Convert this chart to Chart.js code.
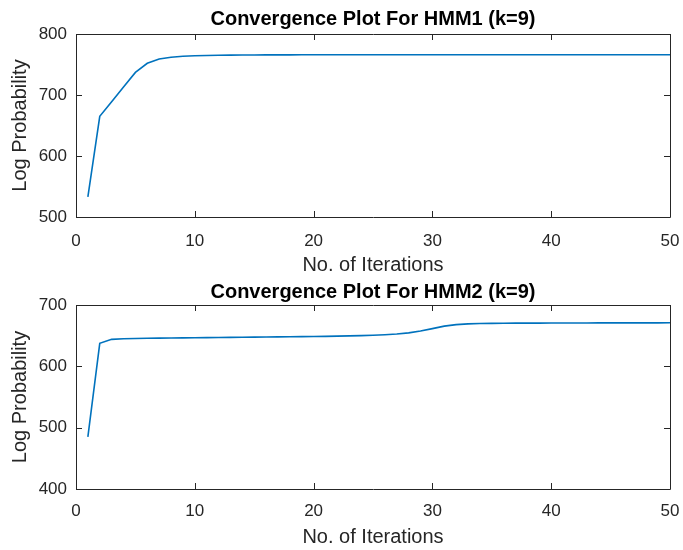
<!DOCTYPE html>
<html>
<head>
<meta charset="utf-8">
<script src="https://cdn.jsdelivr.net/npm/chart.js@4.4.1/dist/chart.umd.min.js"></script>
<style>
  html, body { margin: 0; padding: 0; background: #fff; }
  #wrap { position: relative; width: 683px; height: 550px; }
  .panel { position: absolute; left: 0; width: 683px; }
  #p1 { top: 0; height: 280px; }
  #p2 { top: 280px; height: 270px; }
</style>
</head>
<body>
<div id="wrap">
  <div class="panel" id="p1"><canvas id="hmm1"></canvas></div>
  <div class="panel" id="p2"><canvas id="hmm2"></canvas></div>
</div>
<script>
const iterations = [1, 2, 3, 4, 5, 6, 7, 8, 9, 10,
    11, 12, 13, 14, 15, 16, 17, 18, 19, 20,
    21, 22, 23, 24, 25, 26, 27, 28, 29, 30,
    31, 32, 33, 34, 35, 36, 37, 38, 39, 40,
    41, 42, 43, 44, 45, 46, 47, 48, 49, 50];

const hmm1LogProb = [533, 665, 689, 713, 737, 752, 759, 762, 763.5, 764.3,
    764.8, 765.1, 765.3, 765.5, 765.6, 765.7, 765.8, 765.8, 765.9, 765.9,
    766, 766, 766, 766, 766, 766, 766, 766, 766, 766,
    766, 766, 766, 766, 766, 766, 766, 766, 766, 766,
    766, 766, 766, 766, 766, 766, 766, 766, 766, 766];

const hmm2LogProb = [485, 637.5, 644, 645, 645.5, 645.7, 646, 646.2, 646.4, 646.6,
    646.8, 647, 647.2, 647.4, 647.6, 647.8, 648, 648.2, 648.4, 648.6,
    648.9, 649.2, 649.6, 650, 650.6, 651.4, 652.6, 654.5, 657.5, 661.5,
    665.5, 668, 669.2, 669.8, 670.1, 670.3, 670.4, 670.5, 670.5, 670.6,
    670.6, 670.7, 670.7, 670.8, 670.8, 670.8, 670.9, 670.9, 670.9, 671];

const xTicks = [0, 10, 20, 30, 40, 50];
const yTicks1 = [500, 600, 700, 800];
const yTicks2 = [400, 500, 600, 700];

const titles = ["Convergence Plot For HMM1 (k=9)", "Convergence Plot For HMM2 (k=9)"];

const FONT = "'Liberation Sans', Arial, Helvetica, sans-serif";
const INK = "#262626";

// matlab style box with inward ticks on all four sides
const boxPlugin = {
    id: "box",
    afterDatasetsDraw(chart) {
        const { ctx, chartArea: a, scales } = chart;
        const len = 6;
        ctx.save();
        ctx.strokeStyle = INK;
        ctx.lineWidth = 1;
        ctx.beginPath();
        ctx.rect(Math.round(a.left) + 0.5, Math.round(a.top) + 0.5,
            Math.round(a.right - a.left), Math.round(a.bottom - a.top));
        scales.x.ticks.forEach(t => {
            const px = Math.round(scales.x.getPixelForValue(t.value)) + 0.5;
            ctx.moveTo(px, a.bottom); ctx.lineTo(px, a.bottom - len);
            ctx.moveTo(px, a.top); ctx.lineTo(px, a.top + len);
        });
        scales.y.ticks.forEach(t => {
            const py = Math.round(scales.y.getPixelForValue(t.value)) + 0.5;
            ctx.moveTo(a.left, py); ctx.lineTo(a.left + len, py);
            ctx.moveTo(a.right, py); ctx.lineTo(a.right - len, py);
        });
        ctx.stroke();
        ctx.restore();
    }
};

function makeChart(id, title, values, yTicks, opts) {
    const ctx = document.getElementById(id).getContext("2d");
    return new Chart(ctx, {
        type: "line",
        data: {
            datasets: [{
                data: iterations.map((x, i) => ({ x: x, y: values[i] })),
                borderColor: "#0072BD",
                borderWidth: 1.6,
                pointRadius: 0,
                fill: false,
                tension: 0
            }]
        },
        options: {
            responsive: true,
            maintainAspectRatio: false,
            animation: false,
            layout: { padding: { left: 0, right: 13, top: 0, bottom: 0 } },
            plugins: {
                legend: { display: false },
                tooltip: { enabled: false },
                title: {
                    display: true,
                    text: title,
                    fullSize: false,
                    color: "#000",
                    font: { family: FONT, size: 20, weight: "bold" },
                    padding: opts.titlePad
                }
            },
            scales: {
                x: {
                    type: "linear",
                    min: 0,
                    max: 50,
                    afterBuildTicks: s => { s.ticks = xTicks.map(v => ({ value: v })); },
                    afterFit: s => {
                        s.height = opts.xHeight;
                        s.paddingLeft = 0;
                        s.paddingRight = 0;
                    },
                    grid: { display: false, drawTicks: false },
                    border: { display: false },
                    ticks: {
                        color: INK,
                        padding: opts.xTickPad,
                        maxRotation: 0,
                        font: { family: FONT, size: 17 }
                    },
                    title: {
                        display: true,
                        text: "No. of Iterations",
                        color: INK,
                        font: { family: FONT, size: 20 },
                        padding: { top: 0, bottom: opts.xTitlePad }
                    }
                },
                y: {
                    min: yTicks[0],
                    max: yTicks[yTicks.length - 1],
                    afterBuildTicks: s => { s.ticks = yTicks.map(v => ({ value: v })); },
                    afterFit: s => {
                        s.width = 76;
                        s.paddingTop = 0;
                        s.paddingBottom = 0;
                    },
                    grid: { display: false, drawTicks: false },
                    border: { display: false },
                    ticks: {
                        color: INK,
                        padding: 9,
                        font: { family: FONT, size: 17 }
                    },
                    title: {
                        display: true,
                        text: "Log Probability",
                        color: INK,
                        font: { family: FONT, size: 20 },
                        padding: { top: 8, bottom: 0 }
                    }
                }
            }
        },
        plugins: [boxPlugin]
    });
}

makeChart("hmm1", titles[0], hmm1LogProb, yTicks1,
    { titlePad: { top: 7, bottom: 3 }, xHeight: 63, xTickPad: 14, xTitlePad: 3 });
makeChart("hmm2", titles[1], hmm2LogProb, yTicks2,
    { titlePad: { top: 0, bottom: 1 }, xHeight: 61, xTickPad: 12, xTitlePad: 1 });
</script>
</body>
</html>
